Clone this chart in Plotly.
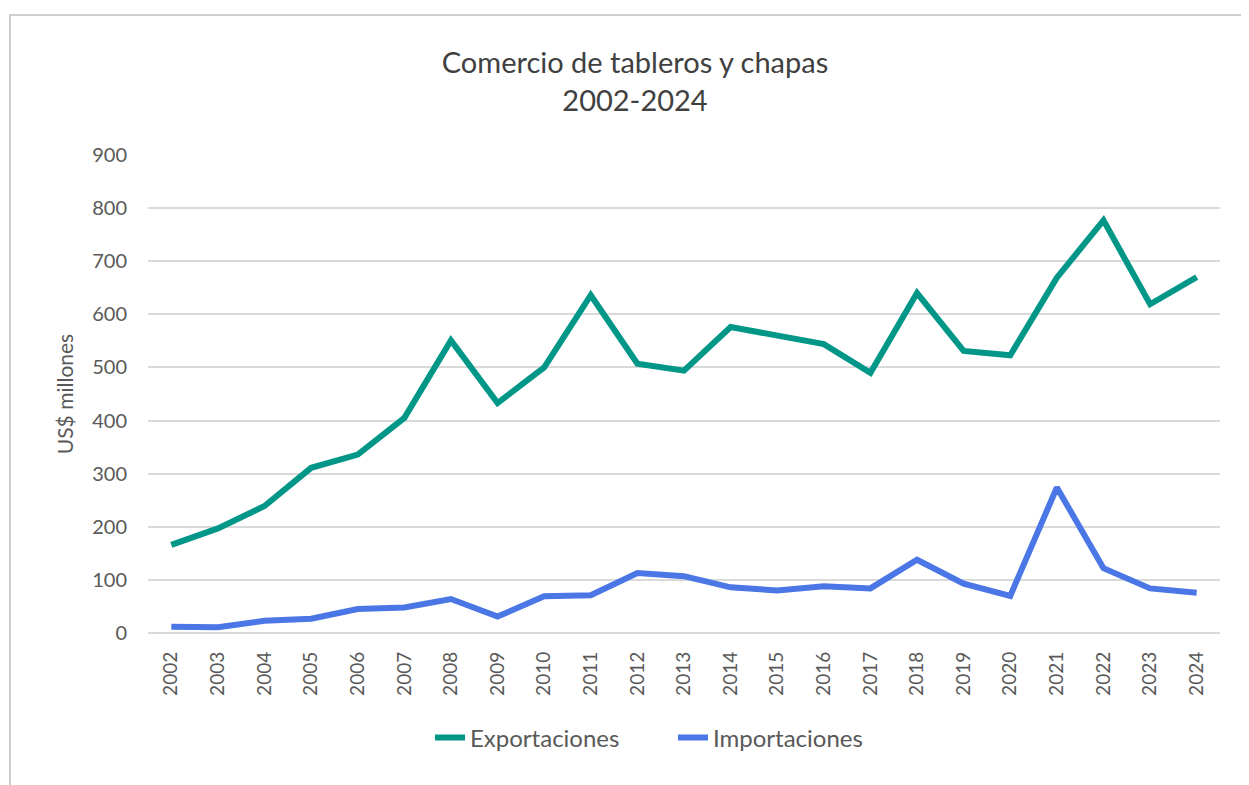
import plotly.graph_objects as go

years = [str(y) for y in range(2002, 2025)]
exportaciones = [166, 197, 239, 311, 336, 405, 551, 433, 500, 636, 507, 494,
                 576, 561, 544, 490, 640, 531, 523, 669, 777, 619, 670]
importaciones = [12, 11, 23, 27, 45, 48, 64, 31, 69, 71, 113, 107,
                 86, 80, 88, 84, 138, 93, 70, 274, 122, 84, 76]
y_ticks = [0, 100, 200, 300, 400, 500, 600, 700, 800, 900]

# the page body adds an 8px offset; figure coordinates are page coordinates minus 8
OFF = 8
W, H = 1249, 785
L, R, T, B = 148 - OFF, 1249 - (1220 - OFF), 155 - OFF, 785 - (633 - OFF)
pw, ph = W - L - R, H - T - B

def px(x):
    return (x - OFF - L) / pw

def py(y):
    return (H - B - (y - OFF)) / ph

FONT = "Lato, 'Open Sans', sans-serif"
GREY = "#595959"

fig = go.Figure()
fig.add_trace(go.Scatter(x=years, y=exportaciones, name="Exportaciones", mode="lines",
                         line=dict(color="#009688", width=6)))
fig.add_trace(go.Scatter(x=years, y=importaciones, name="Importaciones", mode="lines",
                         line=dict(color="#4a76e6", width=6)))

fig.update_layout(
    width=W, height=H,
    margin=dict(l=L, r=R, t=T, b=B, autoexpand=False),
    paper_bgcolor="white", plot_bgcolor="white",
    font=dict(family=FONT, color=GREY),
    title=dict(text="Comercio de tableros y chapas<br>2002-2024",
               x=(635 - OFF) / W, xanchor="center", xref="container",
               y=1 - (73 - OFF) / H, yanchor="top", yref="container",
               font=dict(size=29, color="#404040", family=FONT)),
    legend=dict(orientation="h", x=px(430), xanchor="left", y=py(738), yanchor="middle",
                font=dict(size=24, color=GREY), entrywidth=198, entrywidthmode="pixels",
                traceorder="normal", bgcolor="rgba(0,0,0,0)"),
    xaxis=dict(type="category", range=[-0.5, len(years) - 0.5], tickangle=-90,
               showgrid=False, showline=False, zeroline=False, ticks="",
               tickfont=dict(size=19, color=GREY), ticklabelstandoff=14),
    yaxis=dict(range=[0, 900], tickvals=y_ticks, showgrid=True, gridcolor="#d9d9d9",
               gridwidth=1.5, zeroline=True, zerolinecolor="#d9d9d9", zerolinewidth=1.5,
               showline=False, ticks="", tickfont=dict(size=20, color=GREY),
               ticklabelstandoff=20,
               title=dict(text="US$ millones", font=dict(size=21, color=GREY), standoff=12)),
    shapes=[dict(type="rect", xref="paper", yref="paper",
                 x0=px(10), x1=px(1262), y0=py(800), y1=py(15),
                 line=dict(color="#bfbfbf", width=1.5), fillcolor="rgba(0,0,0,0)",
                 layer="below")],
)

fig.write_html("out.html")
